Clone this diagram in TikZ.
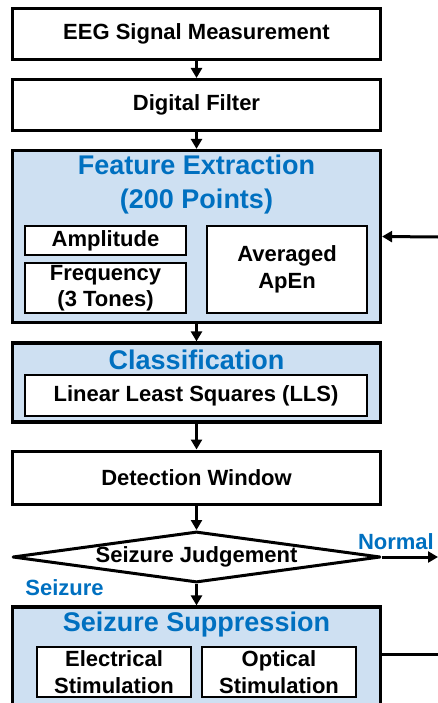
\documentclass[tikz,border=0pt]{standalone}
\usepackage{fontspec}
\setmainfont{Liberation Sans}
\usetikzlibrary{arrows.meta,shapes.geometric}

\definecolor{grpfill}{RGB}{206,224,242}
\definecolor{grpblue}{RGB}{0,112,192}

\tikzstyle{stagebox}=[draw, fill=white, line width=3pt, minimum width=368pt, inner sep=0pt, font=\bfseries\fontsize{22}{26.5}\selectfont, align=center]
\tikzstyle{groupbox}=[draw, fill=grpfill, line width=3.2pt, minimum width=368pt, inner sep=0pt]
\tikzstyle{subbox}=[draw, fill=white, line width=2.6pt, inner sep=0pt, font=\bfseries\fontsize{22}{26.5}\selectfont, align=center]
\tikzstyle{grouptitle}=[text=grpblue, inner sep=0pt, font=\bfseries\fontsize{27}{34}\selectfont, align=center]
\tikzstyle{flag}=[text=grpblue, inner sep=0pt, font=\bfseries\fontsize{22}{26}\selectfont]
\tikzstyle{flow}=[line width=3pt, -{Triangle[width=11pt,length=10pt]}]

\begin{document}
\begin{tikzpicture}[x=1pt,y=-1pt]
\useasboundingbox (0,0) rectangle (438,703);
\clip (0,0) rectangle (438,703);

\node[stagebox, minimum height=51pt] (eeg) at (196.5,34) {EEG Signal Measurement};
\node[stagebox, minimum height=51pt] (filter) at (196.5,105) {Digital Filter};

\node[groupbox, minimum height=172pt] (feat) at (196.5,236.5) {};
\node[grouptitle] (feattitle) at (196.5,185) {Feature Extraction\\(200 Points)};
\node[subbox, minimum width=161pt, minimum height=29pt] (amp) at (105.5,240.5) {Amplitude};
\node[subbox, minimum width=161pt, minimum height=50pt] (freq) at (105.5,288) {Frequency\\(3 Tones)};
\node[subbox, minimum width=160pt, minimum height=87pt] (apen) at (287,269.5) {Averaged\\ApEn};

\node[groupbox, minimum height=79pt] (class) at (196.5,382.5) {};
\node[grouptitle] (classtitle) at (196.5,360) {Classification};
\node[subbox, minimum width=342pt, minimum height=41pt] (lls) at (196,395.5) {Linear Least Squares (LLS)};

\node[stagebox, minimum height=53pt] (window) at (196.5,477.5) {Detection Window};
\node[stagebox, diamond, aspect=7.2, line join=round, minimum width=368pt, minimum height=51pt] (judge) at (196.5,557) {Seizure Judgement};

\node[groupbox, minimum height=105pt] (supp) at (196.5,659.5) {};
\node[grouptitle] (supptitle) at (196.5,625) {Seizure Suppression};
\node[subbox, minimum width=154pt, minimum height=50pt] (elec) at (114,672) {Electrical\\Stimulation};
\node[subbox, minimum width=154pt, minimum height=50pt] (optic) at (279,672) {Optical\\Stimulation};

\node[flag, anchor=east] (normal) at (434,542) {Normal};
\node[flag] (seizure) at (64.5,588) {Seizure};

\coordinate (featin) at (438,237);
\coordinate (normalout) at (438,557);
\coordinate (suppout) at (438,654);

\draw[flow] (eeg.south) -- (filter.north);
\draw[flow] (filter.south) -- (feat.north);
\draw[flow] (featin) -- (feat.east);
\draw[flow] (feat.south) -- (class.north);
\draw[flow] (class.south) -- (window.north);
\draw[flow] (window.south) -- (judge.north);
\draw[flow] (judge.east) -- (normalout);
\draw[flow] (judge.south) -- (supp.north);
\draw[line width=3pt] (suppout -| supp.east) -- (suppout);
\end{tikzpicture}
\end{document}
